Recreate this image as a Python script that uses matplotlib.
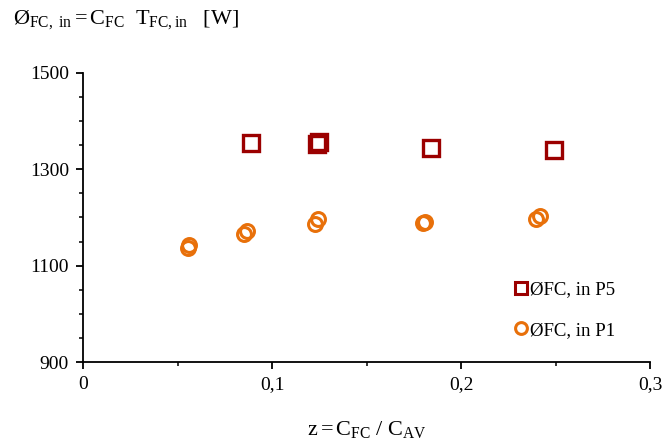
import matplotlib
matplotlib.use('Agg')
import matplotlib.pyplot as plt
from matplotlib.ticker import MultipleLocator, FuncFormatter

# data
z_p5 = [0.0889, 0.1240, 0.1248, 0.1841, 0.2493]
phi_p5 = [1355, 1352, 1356, 1344, 1340]

z_p1 = [0.0556, 0.0563, 0.0850, 0.0865, 0.1228, 0.1243, 0.1800, 0.1810, 0.2397, 0.2420]
phi_p1 = [1136, 1143, 1166, 1172, 1187, 1197, 1188, 1191, 1197, 1203]

x_ticks = [0, 0.1, 0.2, 0.3]
y_ticks = [900, 1100, 1300, 1500]

plt.rcParams['font.family'] = ['Liberation Serif', 'DejaVu Serif']
plt.rcParams['mathtext.fontset'] = 'custom'
plt.rcParams['mathtext.rm'] = 'Liberation Serif'
plt.rcParams['mathtext.it'] = 'Liberation Serif:italic'
plt.rcParams['font.size'] = 14

fig = plt.figure(figsize=(6.64, 4.45), dpi=100)
ax = fig.add_axes([0.125, 0.1865, 0.854, 0.6495])

ax.plot(z_p5, phi_p5, ls='none', marker='s', ms=11, mfc='none', mec='#9B0000',
        mew=2.4, label='ØFC, in P5')
ax.plot(z_p1, phi_p1, ls='none', marker='o', ms=10, mfc='none', mec='#E8700A',
        mew=2.2, label='ØFC, in P1')

ax.set_xlim(0, 0.3)
ax.set_ylim(900, 1500)
ax.set_xticks(x_ticks)
ax.set_yticks(y_ticks)
ax.xaxis.set_minor_locator(MultipleLocator(0.05))
ax.yaxis.set_minor_locator(MultipleLocator(50))
ax.xaxis.set_major_formatter(FuncFormatter(lambda v, p: '0' if v == 0 else ('%g' % round(v, 2)).replace('.', ',')))

for s in ['top', 'right']:
    ax.spines[s].set_visible(False)
for s in ['left', 'bottom']:
    ax.spines[s].set_linewidth(1.3)
ax.tick_params(which='major', direction='out', length=5, width=1.3, labelsize=14, pad=5)
ax.tick_params(which='minor', direction='out', length=3, width=1.1)

ax.set_xlabel(r'$\mathrm{z = C_{FC}\ /\ C_{AV}}$', fontsize=16, labelpad=19)
fig.text(0.02, 0.955, r'$\mathrm{Ø_{FC,\ in} = C_{FC}\ \ T_{FC,in}\ \ \ [W]}$',
         fontsize=16, va='center', ha='left')

leg = ax.legend(loc='upper left', bbox_to_anchor=(0.765, 0.28), frameon=False,
                fontsize=13.5, handlelength=0.5, handletextpad=0.2, labelspacing=1.25,
                borderaxespad=0, borderpad=0)
# legend markers are a bit smaller than the data markers
leg.legend_handles[0].set_markersize(8.5)
leg.legend_handles[0].set_markeredgewidth(2.2)
leg.legend_handles[1].set_markersize(8.5)
leg.legend_handles[1].set_markeredgewidth(2.2)

fig.savefig('out.png', dpi=100)
